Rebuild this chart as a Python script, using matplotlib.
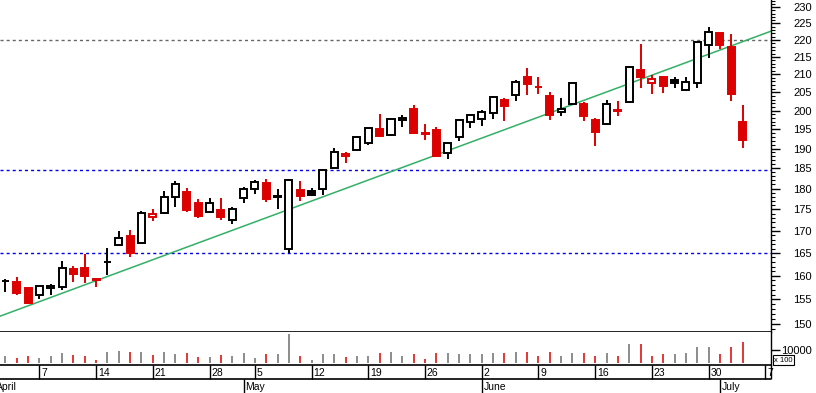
import numpy as np
import matplotlib
matplotlib.use("Agg")
import matplotlib.pyplot as plt
from matplotlib.ticker import FixedLocator, FuncFormatter, NullFormatter

plt.rcParams['font.family'] = ['Liberation Sans', 'DejaVu Sans']

# --------- DATA ---------
first_day = '2003-04-02'
holidays = ['2003-05-01']

opens = [158.9, 158.6, 157.3, 155.8, 157.3, 157.5, 161.5, 161.7, 159.2, 163.0,
         166.7, 168.8, 167.2, 173.3, 174.1, 177.9, 179.2, 176.6, 174.3, 174.9,
         172.5, 177.6, 179.8, 181.4, 178.0, 166.0, 179.7, 179.3, 179.8, 185.0,
         188.1, 189.6, 191.3, 195.1, 193.4, 197.4, 200.4, 193.9, 194.8, 188.8,
         192.9, 196.9, 197.6, 199.3, 203.0, 204.2, 209.3, 206.5, 204.0, 199.5,
         201.9, 201.7, 197.5, 196.5, 200.1, 202.2, 211.3, 207.5, 209.2, 208.4,
         205.6, 207.5, 218.4, 222.0, 218.0, 196.8]
highs = [159.4, 159.7, 157.4, 157.8, 158.3, 163.2, 162.1, 164.8, 159.6, 166.1,
         170.0, 170.2, 174.6, 175.0, 179.4, 181.8, 180.1, 177.4, 177.7, 177.7,
         175.5, 180.4, 182.1, 182.3, 179.9, 182.3, 181.9, 180.1, 184.9, 190.1,
         189.2, 193.2, 195.4, 199.0, 197.9, 198.7, 201.5, 196.4, 195.5, 191.4,
         197.6, 198.9, 200.1, 204.1, 203.4, 208.4, 211.8, 209.3, 205.1, 203.4,
         207.6, 202.4, 197.9, 202.9, 202.7, 212.4, 218.8, 209.8, 209.3, 209.2,
         209.2, 219.4, 224.0, 222.1, 221.8, 201.5]
lows = [156.6, 155.9, 154.1, 155.1, 155.9, 157.0, 158.7, 158.5, 157.6, 160.2,
        166.6, 164.0, 167.1, 172.3, 174.0, 175.6, 174.5, 173.0, 174.2, 172.4,
        171.6, 176.6, 178.8, 176.7, 175.1, 164.9, 177.1, 178.2, 178.4, 184.9,
        186.3, 189.3, 190.8, 193.1, 193.3, 195.7, 193.8, 192.1, 187.9, 187.3,
        192.0, 195.4, 195.8, 197.8, 197.3, 202.7, 204.3, 204.5, 197.5, 198.4,
        201.8, 197.3, 190.7, 196.0, 198.4, 202.1, 206.1, 204.5, 204.7, 206.3,
        205.5, 206.3, 214.6, 217.3, 202.6, 190.2]
closes = [158.9, 156.4, 154.3, 157.7, 157.9, 161.6, 160.4, 160.0, 159.1, 163.0,
          168.3, 165.0, 174.1, 173.9, 177.9, 181.0, 174.9, 173.5, 176.6, 173.3,
          175.0, 179.8, 181.5, 177.5, 178.1, 182.2, 178.3, 178.5, 184.5, 189.0,
          188.7, 192.9, 195.3, 193.3, 197.6, 197.9, 193.9, 193.8, 188.0, 191.3,
          197.5, 198.8, 199.5, 203.6, 201.3, 207.8, 207.4, 206.4, 198.9, 200.4,
          207.5, 198.6, 194.4, 201.9, 200.0, 212.0, 209.2, 208.7, 206.8, 207.5,
          207.8, 219.3, 222.3, 218.6, 204.6, 192.3]
# volume, in units of 100
volumes = [5150, 4080, 5150, 3600, 5150, 7460, 5920, 5150, 2080, 8230,
           9000, 8230, 8230, 5920, 8230, 6690, 7460, 4380, 4380, 5920,
           5150, 7460, 3600, 6690, 6690, 22070, 5150, 2080, 6690, 6690,
           4380, 5150, 5150, 7460, 8230, 5540, 6540, 3230, 8000, 8000,
           6540, 6540, 6540, 7540, 7540, 8460, 8460, 5000, 8770, 5540,
           8000, 8000, 5540, 7540, 5540, 14530, 14530, 5540, 6540, 6540,
           7540, 12530, 12530, 6540, 12530, 16300]

week_dates = ['2003-04-07', '2003-04-14', '2003-04-21', '2003-04-28', '2003-05-05',
              '2003-05-12', '2003-05-19', '2003-05-26', '2003-06-02', '2003-06-09',
              '2003-06-16', '2003-06-23', '2003-06-30', '2003-07-07']
month_dates = ['2003-04-01', '2003-05-02', '2003-06-02', '2003-07-01']
month_names = ['April', 'May', 'June', 'July']

# horizontal support / resistance levels
levels = [220, 184.5, 165]
level_colors = ['#666666', '#0000ee', '#0000ee']
# trend line anchors (day index, price)
trend_days = [0, 65]
trend_prices = [151.9, 219.5]

RED = '#dc0000'

# --------- PREP ---------
o = np.array(opens)
h = np.array(highs)
l = np.array(lows)
c = np.array(closes)
x = np.arange(len(c))
prev = np.r_[c[0], c[:-1]]
colors = np.where(c >= prev, 'black', RED)
faces = np.where(c >= o, 'white', colors)
body_lo = np.minimum(o, c)
body_hi = np.maximum(o, c)

week_pos = np.busday_count(first_day, week_dates, holidays=holidays)
month_pos = np.busday_count(first_day, month_dates, holidays=holidays)
week_labels = [d[-2:].lstrip('0') for d in week_dates]

xlim = (-0.47, 67.5)

# --------- FIGURE ---------
fig = plt.figure(figsize=(8.16, 3.93), dpi=100)
right = 771 / 816
ax = fig.add_axes([0, 1 - 332 / 393, right, 332 / 393])
axv = fig.add_axes([0, 1 - 365 / 393, right, 33 / 393])
axd = fig.add_axes([0, 0, right, 1 - 365 / 393])

# price panel
for lev, col in zip(levels, level_colors):
    ax.axhline(lev, color=col, lw=1, linestyle=(0, (2.2, 2.2)), zorder=1)

k = (np.log(trend_prices[1]) - np.log(trend_prices[0])) / (trend_days[1] - trend_days[0])
tx = np.array(xlim)
ty = np.exp(np.log(trend_prices[0]) + k * (tx - trend_days[0]))
ax.plot(tx, ty, color='#33b066', lw=1.1, zorder=1.5)

ax.vlines(x, l, h, colors=colors, lw=1.4, zorder=2)
ax.bar(x, body_hi - body_lo, bottom=body_lo, width=0.62, color=faces,
       edgecolor=colors, linewidth=1.4, zorder=3)

ax.set_yscale('log')
ax.set_ylim(148.3, 232.2)
ax.set_xlim(*xlim)
ax.set_xticks([])
ax.yaxis.tick_right()
ax.yaxis.set_major_locator(FixedLocator(np.arange(150, 231, 5)))
ax.yaxis.set_major_formatter(FuncFormatter(lambda v, p: f'{v:.0f}'))
ax.yaxis.set_minor_locator(FixedLocator(np.arange(149, 233)))
ax.yaxis.set_minor_formatter(NullFormatter())
ax.tick_params(axis='y', which='major', length=6.5, width=1, pad=9.5, labelsize=8)
ax.tick_params(axis='y', which='minor', length=3, width=0.8)
for s in ['top', 'left']:
    ax.spines[s].set_visible(False)
ax.spines['right'].set_linewidth(1)
ax.spines['bottom'].set_linewidth(1.2)

# volume panel
vcolors = np.where(c >= prev, '#6e6e6e', RED)
axv.vlines(x, 0, volumes, colors=vcolors, lw=1.1)
axv.set_xlim(*xlim)
axv.set_ylim(-1540, 23840)
axv.set_xticks([])
axv.yaxis.tick_right()
axv.set_yticks([10000])
axv.set_yticklabels(['10000'])
axv.tick_params(axis='y', length=6.5, width=1, pad=1, labelsize=8)
for s in ['top', 'left']:
    axv.spines[s].set_visible(False)
axv.spines['right'].set_linewidth(1)
axv.spines['bottom'].set_linewidth(1.2)
fig.text(774 / 816, 1 - 360 / 393, 'x 100', fontsize=5.5, va='center', ha='left',
         bbox=dict(boxstyle='square,pad=0.15', fc='white', ec='black', lw=0.8))

# date rows
axd.set_xlim(*xlim)
axd.set_ylim(0, 28)
axd.axis('off')
axd.axhline(14, color='black', lw=1.2)
axd.vlines(week_pos, 14, 28, colors='black', lw=1)
axd.vlines(month_pos, 0, 14, colors='black', lw=1)
axd.vlines(xlim[1], 14, 28, colors='black', lw=1, clip_on=False)
for pos, lab in zip(week_pos, week_labels):
    axd.annotate(lab, (pos, 20), xytext=(1.2, 0), textcoords='offset points',
                 va='center', ha='left', fontsize=7.5, annotation_clip=False)
for pos, lab in zip(month_pos, month_names):
    axd.annotate(lab, (pos, 6.5), xytext=(1.2, 0), textcoords='offset points',
                 va='center', ha='left', fontsize=7.5, annotation_clip=False)

fig.savefig('out.png', dpi=100)
